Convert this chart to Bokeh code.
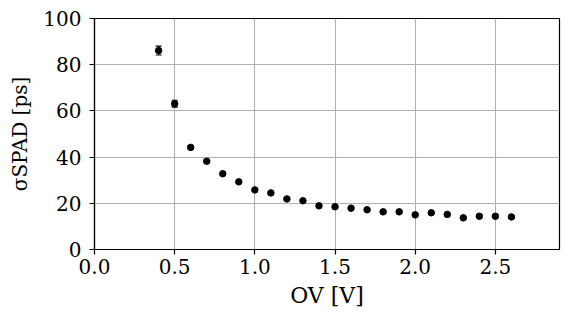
from bokeh.plotting import figure
from bokeh.models import ColumnDataSource, FixedTicker, Range1d, CustomJSTickFormatter
from bokeh.embed import file_html
from bokeh.resources import INLINE

# data
ov = [0.4, 0.5, 0.6, 0.7, 0.8, 0.9, 1.0, 1.1, 1.2, 1.3, 1.4, 1.5, 1.6, 1.7,
      1.8, 1.9, 2.0, 2.1, 2.2, 2.3, 2.4, 2.5, 2.6]
sigma = [86.1, 63.1, 44.2, 38.2, 32.8, 29.3, 25.8, 24.5, 21.9, 21.1, 18.9, 18.5,
         17.9, 17.2, 16.3, 16.3, 15.0, 15.9, 15.2, 13.7, 14.4, 14.4, 14.1]
err = [1.9, 1.5, 0.8, 0.6, 0.5, 0.5, 0.5, 0.5, 0.5, 0.5, 0.5, 0.5,
       0.5, 0.5, 0.5, 0.5, 0.5, 0.5, 0.5, 0.5, 0.5, 0.5, 0.5]
xticks = [0.0, 0.5, 1.0, 1.5, 2.0, 2.5]
yticks = [0, 20, 40, 60, 80, 100]
xlabel = "OV [V]"
ylabel = "σSPAD [ps]"

FONT = "DejaVu Serif"

lo = [s - e for s, e in zip(sigma, err)]
hi = [s + e for s, e in zip(sigma, err)]
src = ColumnDataSource(dict(x=ov, y=sigma, lo=lo, hi=hi))

p = figure(frame_width=465, frame_height=231, output_backend="svg",
           toolbar_location=None, x_range=Range1d(0, 2.9), y_range=Range1d(0, 100),
           min_border_left=94, min_border_right=9, min_border_top=18, min_border_bottom=69)
p.background_fill_color = "white"
p.border_fill_color = "white"
p.outline_line_color = "black"
p.outline_line_width = 1.2

p.segment(x0="x", y0="lo", x1="x", y1="hi", source=src, line_color="black", line_width=1.2)
p.scatter(x="x", y="lo", source=src, marker="dash", size=6, line_color="black", line_width=1.2)
p.scatter(x="x", y="hi", source=src, marker="dash", size=6, line_color="black", line_width=1.2)
p.scatter(x="x", y="y", source=src, marker="circle", size=6.5, fill_color="black", line_color="black")

p.xaxis.ticker = FixedTicker(ticks=xticks)
p.yaxis.ticker = FixedTicker(ticks=yticks)
p.xaxis.formatter = CustomJSTickFormatter(code="return tick.toFixed(1);")
p.yaxis.formatter = CustomJSTickFormatter(code="return tick.toFixed(0);")

for ax in (p.xaxis, p.yaxis):
    ax.major_label_text_font = FONT
    ax.major_label_text_font_size = "20px"
    ax.major_label_text_color = "black"
    ax.axis_line_color = "black"
    ax.axis_line_width = 1.2
    ax.major_tick_line_color = "black"
    ax.major_tick_line_width = 1.2
    ax.major_tick_out = 5
    ax.major_tick_in = 0
    ax.minor_tick_line_color = None
    ax.axis_label_text_font = FONT
    ax.axis_label_text_font_style = "normal"
    ax.axis_label_text_color = "black"
p.xaxis.major_label_standoff = 4
p.yaxis.major_label_standoff = 8

p.xaxis.axis_label = xlabel
p.xaxis.axis_label_text_font_size = "22px"
p.xaxis.axis_label_standoff = 6

p.yaxis.axis_label = ylabel
p.yaxis.axis_label_text_font_size = "20px"
p.yaxis.axis_label_standoff = 8

for g in (p.xgrid, p.ygrid):
    g.grid_line_color = "#b0b0b0"
    g.grid_line_width = 1.1

open("out.html", "w").write(file_html(p, INLINE))
